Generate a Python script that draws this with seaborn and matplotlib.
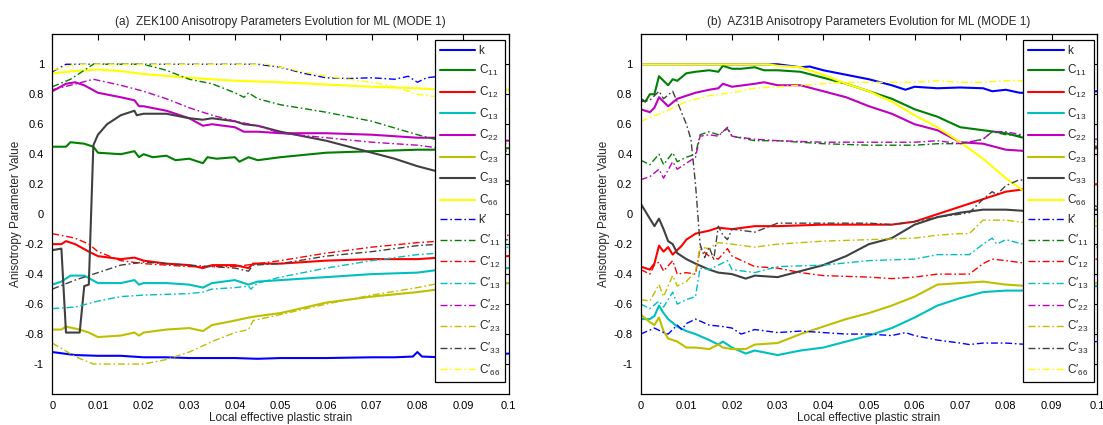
import matplotlib
matplotlib.use("Agg")
import matplotlib.pyplot as plt
import seaborn as sns
import pandas as pd

# ---------------- (a) ZEK100 ----------------
zek_k_x = [0, 0.005, 0.01, 0.015, 0.02, 0.025, 0.03, 0.04, 0.045, 0.05, 0.06, 0.07, 0.075, 0.079, 0.08, 0.081, 0.085, 0.09, 0.1]
zek_k_y = [-0.92, -0.94, -0.945, -0.945, -0.955, -0.955, -0.96, -0.96, -0.965, -0.96, -0.96, -0.955, -0.955, -0.95, -0.92, -0.95, -0.955, -0.955, -0.93]
zek_c11_x = [0, 0.003, 0.004, 0.007, 0.009, 0.01, 0.015, 0.018, 0.019, 0.02, 0.022, 0.025, 0.027, 0.03, 0.033, 0.034, 0.036, 0.04, 0.041, 0.043, 0.045, 0.05, 0.06, 0.07, 0.08, 0.085, 0.1]
zek_c11_y = [0.45, 0.45, 0.48, 0.47, 0.45, 0.41, 0.40, 0.42, 0.38, 0.40, 0.38, 0.39, 0.36, 0.37, 0.34, 0.38, 0.37, 0.38, 0.35, 0.38, 0.36, 0.38, 0.41, 0.42, 0.43, 0.43, 0.44]
zek_c12_x = [0, 0.002, 0.003, 0.005, 0.008, 0.01, 0.015, 0.018, 0.02, 0.025, 0.03, 0.033, 0.035, 0.04, 0.043, 0.044, 0.05, 0.06, 0.07, 0.08, 0.085, 0.1]
zek_c12_y = [-0.2, -0.2, -0.18, -0.2, -0.25, -0.28, -0.3, -0.29, -0.31, -0.33, -0.34, -0.36, -0.34, -0.34, -0.36, -0.33, -0.33, -0.31, -0.3, -0.3, -0.29, -0.28]
zek_c13_x = [0, 0.002, 0.004, 0.007, 0.01, 0.015, 0.018, 0.019, 0.02, 0.025, 0.03, 0.033, 0.035, 0.04, 0.043, 0.045, 0.05, 0.06, 0.07, 0.08, 0.085, 0.1]
zek_c13_y = [-0.47, -0.45, -0.41, -0.41, -0.46, -0.46, -0.44, -0.47, -0.46, -0.46, -0.47, -0.49, -0.46, -0.44, -0.47, -0.45, -0.44, -0.42, -0.4, -0.39, -0.37, -0.36]
zek_c22_x = [0, 0.003, 0.005, 0.007, 0.01, 0.015, 0.018, 0.019, 0.02, 0.025, 0.03, 0.033, 0.035, 0.04, 0.042, 0.045, 0.05, 0.06, 0.07, 0.08, 0.085, 0.1]
zek_c22_y = [0.82, 0.87, 0.88, 0.86, 0.81, 0.78, 0.76, 0.72, 0.72, 0.69, 0.64, 0.59, 0.6, 0.58, 0.55, 0.55, 0.54, 0.54, 0.53, 0.51, 0.51, 0.49]
zek_c23_x = [0, 0.002, 0.003, 0.006, 0.008, 0.01, 0.015, 0.018, 0.019, 0.02, 0.025, 0.03, 0.033, 0.035, 0.04, 0.043, 0.045, 0.05, 0.06, 0.07, 0.08, 0.085, 0.1]
zek_c23_y = [-0.77, -0.77, -0.75, -0.77, -0.79, -0.82, -0.81, -0.79, -0.81, -0.79, -0.77, -0.76, -0.78, -0.74, -0.71, -0.69, -0.68, -0.66, -0.59, -0.55, -0.52, -0.5, -0.46]
zek_c33_x = [0, 0.002, 0.003, 0.006, 0.007, 0.008, 0.009, 0.01, 0.012, 0.015, 0.018, 0.0185, 0.02, 0.025, 0.03, 0.033, 0.035, 0.04, 0.042, 0.045, 0.05, 0.055, 0.06, 0.07, 0.075, 0.08, 0.085, 0.1]
zek_c33_y = [-0.24, -0.23, -0.79, -0.79, -0.48, -0.47, 0.46, 0.53, 0.6, 0.66, 0.69, 0.66, 0.67, 0.67, 0.64, 0.63, 0.64, 0.62, 0.6, 0.59, 0.55, 0.52, 0.49, 0.41, 0.37, 0.32, 0.28, 0.22]
zek_c66_x = [0, 0.005, 0.01, 0.015, 0.02, 0.03, 0.04, 0.05, 0.06, 0.07, 0.08, 0.085, 0.1]
zek_c66_y = [0.94, 0.955, 0.965, 0.955, 0.935, 0.91, 0.89, 0.88, 0.865, 0.85, 0.84, 0.83, 0.83]
zek_kp_x = [0, 0.003, 0.045, 0.05, 0.055, 0.06, 0.065, 0.07, 0.075, 0.078, 0.08, 0.082, 0.085, 0.1]
zek_kp_y = [0.95, 1.0, 1.0, 0.98, 0.94, 0.91, 0.905, 0.91, 0.9, 0.92, 0.88, 0.91, 0.92, 0.91]
zek_c11p_x = [0, 0.004, 0.009, 0.02, 0.025, 0.03, 0.035, 0.04, 0.042, 0.043, 0.045, 0.05, 0.06, 0.07, 0.08, 0.085, 0.1]
zek_c11p_y = [0.85, 0.9, 1.0, 1.0, 0.96, 0.9, 0.87, 0.81, 0.78, 0.81, 0.77, 0.73, 0.68, 0.62, 0.53, 0.49, 0.47]
zek_c12p_x = [0, 0.005, 0.008, 0.01, 0.015, 0.02, 0.03, 0.04, 0.045, 0.05, 0.06, 0.07, 0.08, 0.085, 0.1]
zek_c12p_y = [-0.13, -0.16, -0.2, -0.25, -0.31, -0.33, -0.35, -0.35, -0.33, -0.31, -0.26, -0.22, -0.19, -0.18, -0.14]
zek_c13p_x = [0, 0.005, 0.01, 0.015, 0.02, 0.03, 0.033, 0.035, 0.04, 0.043, 0.0435, 0.045, 0.05, 0.06, 0.07, 0.08, 0.085, 0.1]
zek_c13p_y = [-0.63, -0.62, -0.58, -0.55, -0.54, -0.53, -0.52, -0.5, -0.49, -0.48, -0.5, -0.46, -0.42, -0.36, -0.31, -0.27, -0.26, -0.22]
zek_c22p_x = [0, 0.004, 0.009, 0.015, 0.02, 0.025, 0.03, 0.035, 0.04, 0.045, 0.05, 0.06, 0.07, 0.08, 0.085, 0.1]
zek_c22p_y = [0.83, 0.86, 0.9, 0.86, 0.82, 0.77, 0.71, 0.66, 0.62, 0.59, 0.54, 0.51, 0.48, 0.46, 0.44, 0.42]
zek_c23p_x = [0, 0.005, 0.009, 0.02, 0.025, 0.03, 0.035, 0.04, 0.043, 0.044, 0.05, 0.06, 0.07, 0.08, 0.085, 0.1]
zek_c23p_y = [-0.86, -0.95, -1.0, -1.0, -0.97, -0.92, -0.85, -0.79, -0.77, -0.71, -0.67, -0.6, -0.54, -0.49, -0.46, -0.41]
zek_c33p_x = [0, 0.005, 0.01, 0.015, 0.02, 0.03, 0.04, 0.043, 0.044, 0.05, 0.06, 0.07, 0.08, 0.085, 0.1]
zek_c33p_y = [-0.5, -0.44, -0.39, -0.34, -0.32, -0.34, -0.36, -0.38, -0.34, -0.33, -0.28, -0.25, -0.21, -0.2, -0.17]
zek_c66p_x = [0, 0.005, 0.047, 0.05, 0.055, 0.06, 0.065, 0.07, 0.075, 0.08, 0.085, 0.1]
zek_c66p_y = [0.96, 1.0, 1.0, 0.98, 0.95, 0.92, 0.9, 0.88, 0.85, 0.8, 0.78, 0.7]

# ---------------- (b) AZ31B ----------------
az_k_x = [0, 0.03, 0.035, 0.037, 0.04, 0.045, 0.05, 0.055, 0.058, 0.06, 0.065, 0.07, 0.075, 0.077, 0.08, 0.083, 0.085, 0.1]
az_k_y = [1.0, 1.0, 0.98, 0.985, 0.96, 0.93, 0.9, 0.86, 0.83, 0.85, 0.84, 0.845, 0.84, 0.82, 0.83, 0.81, 0.81, 0.82]
az_c11_x = [0, 0.001, 0.002, 0.003, 0.004, 0.006, 0.007, 0.008, 0.01, 0.012, 0.015, 0.017, 0.018, 0.02, 0.022, 0.025, 0.027, 0.03, 0.035, 0.04, 0.045, 0.05, 0.055, 0.06, 0.065, 0.07, 0.075, 0.08, 0.085, 0.1]
az_c11_y = [0.77, 0.75, 0.8, 0.8, 0.92, 0.86, 0.9, 0.89, 0.94, 0.95, 0.96, 0.95, 0.99, 0.97, 0.97, 0.98, 0.96, 0.96, 0.95, 0.91, 0.87, 0.82, 0.77, 0.7, 0.65, 0.58, 0.56, 0.54, 0.5, 0.45]
az_c12_x = [0, 0.002, 0.003, 0.004, 0.005, 0.006, 0.007, 0.009, 0.01, 0.012, 0.015, 0.017, 0.02, 0.025, 0.03, 0.04, 0.05, 0.055, 0.06, 0.065, 0.07, 0.075, 0.08, 0.085, 0.1]
az_c12_y = [-0.35, -0.37, -0.33, -0.21, -0.25, -0.22, -0.27, -0.21, -0.17, -0.13, -0.11, -0.09, -0.1, -0.08, -0.08, -0.07, -0.07, -0.07, -0.05, 0.0, 0.05, 0.1, 0.15, 0.17, 0.2]
az_c13_x = [0, 0.002, 0.003, 0.004, 0.005, 0.006, 0.008, 0.01, 0.012, 0.015, 0.017, 0.018, 0.02, 0.023, 0.025, 0.03, 0.035, 0.04, 0.045, 0.05, 0.055, 0.06, 0.065, 0.07, 0.075, 0.08, 0.085, 0.1]
az_c13_y = [-0.7, -0.7, -0.68, -0.61, -0.66, -0.7, -0.75, -0.78, -0.8, -0.84, -0.87, -0.85, -0.89, -0.93, -0.91, -0.94, -0.91, -0.89, -0.85, -0.81, -0.76, -0.69, -0.61, -0.56, -0.52, -0.51, -0.51, -0.48]
az_c22_x = [0, 0.002, 0.003, 0.004, 0.006, 0.008, 0.01, 0.012, 0.015, 0.017, 0.018, 0.02, 0.025, 0.027, 0.03, 0.035, 0.04, 0.045, 0.05, 0.055, 0.06, 0.065, 0.07, 0.075, 0.08, 0.085, 0.1]
az_c22_y = [0.7, 0.68, 0.71, 0.78, 0.72, 0.77, 0.79, 0.81, 0.83, 0.84, 0.87, 0.85, 0.87, 0.88, 0.86, 0.86, 0.82, 0.78, 0.72, 0.67, 0.6, 0.56, 0.48, 0.47, 0.43, 0.42, 0.44]
az_c23_x = [0, 0.002, 0.003, 0.004, 0.005, 0.006, 0.008, 0.01, 0.012, 0.015, 0.017, 0.018, 0.02, 0.023, 0.025, 0.03, 0.035, 0.04, 0.045, 0.05, 0.055, 0.06, 0.065, 0.07, 0.075, 0.08, 0.085, 0.1]
az_c23_y = [-0.67, -0.72, -0.74, -0.69, -0.78, -0.83, -0.85, -0.89, -0.89, -0.9, -0.87, -0.89, -0.9, -0.9, -0.87, -0.86, -0.8, -0.75, -0.7, -0.66, -0.61, -0.55, -0.47, -0.46, -0.45, -0.47, -0.48, -0.46]
az_c33_x = [0, 0.002, 0.003, 0.004, 0.005, 0.006, 0.007, 0.008, 0.01, 0.012, 0.015, 0.017, 0.02, 0.023, 0.025, 0.03, 0.035, 0.04, 0.045, 0.05, 0.055, 0.06, 0.065, 0.07, 0.075, 0.08, 0.085, 0.1]
az_c33_y = [0.07, -0.03, -0.08, -0.03, -0.1, -0.18, -0.2, -0.26, -0.3, -0.33, -0.37, -0.39, -0.4, -0.43, -0.41, -0.42, -0.38, -0.34, -0.28, -0.2, -0.16, -0.07, -0.02, 0.01, 0.03, 0.03, 0.02, 0.03]
az_c66_x = [0, 0.028, 0.03, 0.035, 0.04, 0.045, 0.05, 0.055, 0.06, 0.065, 0.07, 0.075, 0.08, 0.085, 0.1]
az_c66_y = [1.0, 1.0, 0.99, 0.98, 0.93, 0.87, 0.82, 0.75, 0.66, 0.58, 0.48, 0.37, 0.24, 0.13, -0.05]
az_kp_x = [0, 0.003, 0.005, 0.006, 0.007, 0.008, 0.009, 0.01, 0.012, 0.015, 0.018, 0.02, 0.022, 0.025, 0.03, 0.035, 0.04, 0.045, 0.05, 0.055, 0.058, 0.06, 0.065, 0.07, 0.072, 0.075, 0.08, 0.085, 0.1]
az_kp_y = [-0.8, -0.76, -0.79, -0.8, -0.77, -0.74, -0.77, -0.73, -0.7, -0.74, -0.75, -0.76, -0.8, -0.77, -0.79, -0.78, -0.79, -0.8, -0.8, -0.81, -0.79, -0.81, -0.84, -0.86, -0.87, -0.86, -0.86, -0.87, -0.85]
az_c11p_x = [0, 0.002, 0.004, 0.005, 0.007, 0.008, 0.01, 0.012, 0.013, 0.015, 0.017, 0.019, 0.02, 0.025, 0.03, 0.04, 0.05, 0.06, 0.065, 0.07, 0.075, 0.077, 0.08, 0.085, 0.1]
az_c11p_y = [0.36, 0.33, 0.4, 0.33, 0.41, 0.35, 0.38, 0.4, 0.53, 0.55, 0.53, 0.57, 0.52, 0.49, 0.49, 0.47, 0.46, 0.46, 0.47, 0.47, 0.5, 0.55, 0.53, 0.52, 0.48]
az_c12p_x = [0, 0.002, 0.003, 0.004, 0.005, 0.007, 0.008, 0.01, 0.012, 0.013, 0.015, 0.017, 0.019, 0.02, 0.025, 0.03, 0.035, 0.04, 0.05, 0.055, 0.06, 0.065, 0.07, 0.072, 0.075, 0.077, 0.08, 0.085, 0.1]
az_c12p_y = [-0.37, -0.4, -0.34, -0.32, -0.38, -0.31, -0.4, -0.39, -0.4, -0.23, -0.28, -0.3, -0.23, -0.28, -0.35, -0.36, -0.39, -0.41, -0.42, -0.43, -0.42, -0.4, -0.4, -0.4, -0.33, -0.3, -0.31, -0.33, -0.3]
az_c13p_x = [0, 0.002, 0.004, 0.005, 0.007, 0.008, 0.01, 0.012, 0.013, 0.015, 0.017, 0.019, 0.02, 0.025, 0.03, 0.04, 0.05, 0.06, 0.065, 0.07, 0.072, 0.075, 0.077, 0.078, 0.08, 0.085, 0.1]
az_c13p_y = [-0.6, -0.63, -0.58, -0.62, -0.52, -0.6, -0.57, -0.55, -0.36, -0.37, -0.34, -0.31, -0.37, -0.39, -0.35, -0.34, -0.31, -0.3, -0.27, -0.27, -0.27, -0.2, -0.16, -0.2, -0.17, -0.21, -0.22]
az_c22p_x = [0, 0.002, 0.004, 0.005, 0.007, 0.008, 0.01, 0.012, 0.013, 0.015, 0.017, 0.019, 0.02, 0.025, 0.03, 0.04, 0.05, 0.06, 0.065, 0.07, 0.075, 0.077, 0.08, 0.085, 0.1]
az_c22p_y = [0.23, 0.25, 0.3, 0.24, 0.35, 0.3, 0.34, 0.38, 0.52, 0.53, 0.52, 0.58, 0.52, 0.5, 0.49, 0.48, 0.48, 0.48, 0.49, 0.47, 0.5, 0.55, 0.55, 0.52, 0.5]
az_c23p_x = [0, 0.002, 0.004, 0.005, 0.007, 0.008, 0.01, 0.012, 0.013, 0.015, 0.017, 0.02, 0.025, 0.03, 0.04, 0.05, 0.06, 0.065, 0.07, 0.072, 0.075, 0.08, 0.085, 0.1]
az_c23p_y = [-0.57, -0.58, -0.47, -0.55, -0.41, -0.48, -0.45, -0.38, -0.22, -0.23, -0.19, -0.2, -0.22, -0.2, -0.18, -0.17, -0.16, -0.14, -0.13, -0.13, -0.04, -0.04, -0.06, -0.08]
az_c33p_x = [0, 0.002, 0.004, 0.005, 0.007, 0.008, 0.01, 0.011, 0.012, 0.013, 0.014, 0.015, 0.016, 0.017, 0.018, 0.019, 0.02, 0.025, 0.03, 0.04, 0.05, 0.055, 0.06, 0.065, 0.07, 0.072, 0.075, 0.077, 0.078, 0.08, 0.083, 0.085, 0.1]
az_c33p_y = [0.75, 0.76, 0.82, 0.77, 0.82, 0.75, 0.6, 0.5, 0.2, -0.2, -0.29, -0.22, -0.3, -0.08, -0.14, -0.17, -0.1, -0.12, -0.06, -0.06, -0.06, -0.07, -0.05, -0.02, 0.0, 0.01, 0.1, 0.15, 0.13, 0.19, 0.23, 0.22, 0.05]
az_c66p_x = [0, 0.005, 0.01, 0.015, 0.02, 0.025, 0.03, 0.035, 0.04, 0.045, 0.05, 0.06, 0.065, 0.07, 0.075, 0.08, 0.085, 0.1]
az_c66p_y = [0.62, 0.68, 0.75, 0.79, 0.81, 0.84, 0.85, 0.86, 0.87, 0.88, 0.88, 0.88, 0.89, 0.88, 0.88, 0.89, 0.89, 0.89]

labels = ["k", "C$_{11}$", "C$_{12}$", "C$_{13}$", "C$_{22}$", "C$_{23}$", "C$_{33}$", "C$_{66}$",
          "k\u2032", "C\u2032$_{11}$", "C\u2032$_{12}$", "C\u2032$_{13}$", "C\u2032$_{22}$", "C\u2032$_{23}$", "C\u2032$_{33}$", "C\u2032$_{66}$"]
colors = ["#0000ff", "#008000", "#ff0000", "#00bfbf", "#bf00bf", "#bfbf00", "#404040", "#ffff00"]

zek_series = [(zek_k_x, zek_k_y), (zek_c11_x, zek_c11_y), (zek_c12_x, zek_c12_y), (zek_c13_x, zek_c13_y),
              (zek_c22_x, zek_c22_y), (zek_c23_x, zek_c23_y), (zek_c33_x, zek_c33_y), (zek_c66_x, zek_c66_y),
              (zek_kp_x, zek_kp_y), (zek_c11p_x, zek_c11p_y), (zek_c12p_x, zek_c12p_y), (zek_c13p_x, zek_c13p_y),
              (zek_c22p_x, zek_c22p_y), (zek_c23p_x, zek_c23p_y), (zek_c33p_x, zek_c33p_y), (zek_c66p_x, zek_c66p_y)]
az_series = [(az_k_x, az_k_y), (az_c11_x, az_c11_y), (az_c12_x, az_c12_y), (az_c13_x, az_c13_y),
             (az_c22_x, az_c22_y), (az_c23_x, az_c23_y), (az_c33_x, az_c33_y), (az_c66_x, az_c66_y),
             (az_kp_x, az_kp_y), (az_c11p_x, az_c11p_y), (az_c12p_x, az_c12p_y), (az_c13p_x, az_c13p_y),
             (az_c22p_x, az_c22p_y), (az_c23p_x, az_c23p_y), (az_c33p_x, az_c33p_y), (az_c66p_x, az_c66p_y)]

titles = ["(a)  ZEK100 Anisotropy Parameters Evolution for ML (MODE 1)",
          "(b)  AZ31B Anisotropy Parameters Evolution for ML (MODE 1)"]
xticks = [0, 0.01, 0.02, 0.03, 0.04, 0.05, 0.06, 0.07, 0.08, 0.09, 0.1]
xticklabels = ["0", "0.01", "0.02", "0.03", "0.04", "0.05", "0.06", "0.07", "0.08", "0.09", "0.1"]
yticks = [-1, -0.8, -0.6, -0.4, -0.2, 0, 0.2, 0.4, 0.6, 0.8, 1]
yticklabels = ["-1", "-0.8", "-0.6", "-0.4", "-0.2", "0", "0.2", "0.4", "0.6", "0.8", "1"]

sns.set_theme(style="white")
plt.rcParams["font.family"] = ["Liberation Sans", "DejaVu Sans"]
plt.rcParams["mathtext.default"] = "regular"
plt.rcParams["axes.unicode_minus"] = False
plt.rcParams["font.size"] = 8

fig = plt.figure(figsize=(11.03, 4.25), dpi=100)
ax_a = fig.add_axes([0.0474, 0.0729, 0.4138, 0.8464])
ax_b = fig.add_axes([0.5809, 0.0729, 0.4138, 0.8464])

for ax, series, title in [(ax_a, zek_series, titles[0]), (ax_b, az_series, titles[1])]:
    for i, (xs, ys) in enumerate(series):
        df = pd.DataFrame({"x": xs, "y": ys})
        solid = i < 8
        sns.lineplot(data=df, x="x", y="y", ax=ax, sort=False, estimator=None,
                     color=colors[i % 8], label=labels[i],
                     linewidth=1.5 if solid else 1.0,
                     linestyle="-" if solid else (0, (5, 2, 1.2, 2)))
    ax.set_xlim(0, 0.1)
    ax.set_ylim(-1.2, 1.2)
    ax.set_xticks(xticks)
    ax.set_xticklabels(xticklabels)
    ax.set_yticks(yticks)
    ax.set_yticklabels(yticklabels)
    ax.tick_params(direction="in", top=True, right=True, length=4, width=0.8,
                   labelsize=8, colors="black", pad=5)
    ax.tick_params(axis="y", pad=6)
    for sp in ax.spines.values():
        sp.set_color("black")
        sp.set_linewidth(0.9)
    ax.set_xlabel("Local effective plastic strain", fontsize=8.5, labelpad=1)
    ax.set_ylabel("Anisotropy Parameter Value", fontsize=8.5, labelpad=2)
    ax.set_title(title, fontsize=8.5, pad=7)
    leg = ax.legend(loc="upper right", bbox_to_anchor=(0.992, 0.984), borderaxespad=0,
                    fontsize=8.5, frameon=True, fancybox=False, framealpha=1,
                    edgecolor="black", handlelength=3.0, handletextpad=0.3,
                    labelspacing=0.55, borderpad=0.4)
    leg.get_frame().set_linewidth(0.9)

fig.savefig("out.png", dpi=100)
